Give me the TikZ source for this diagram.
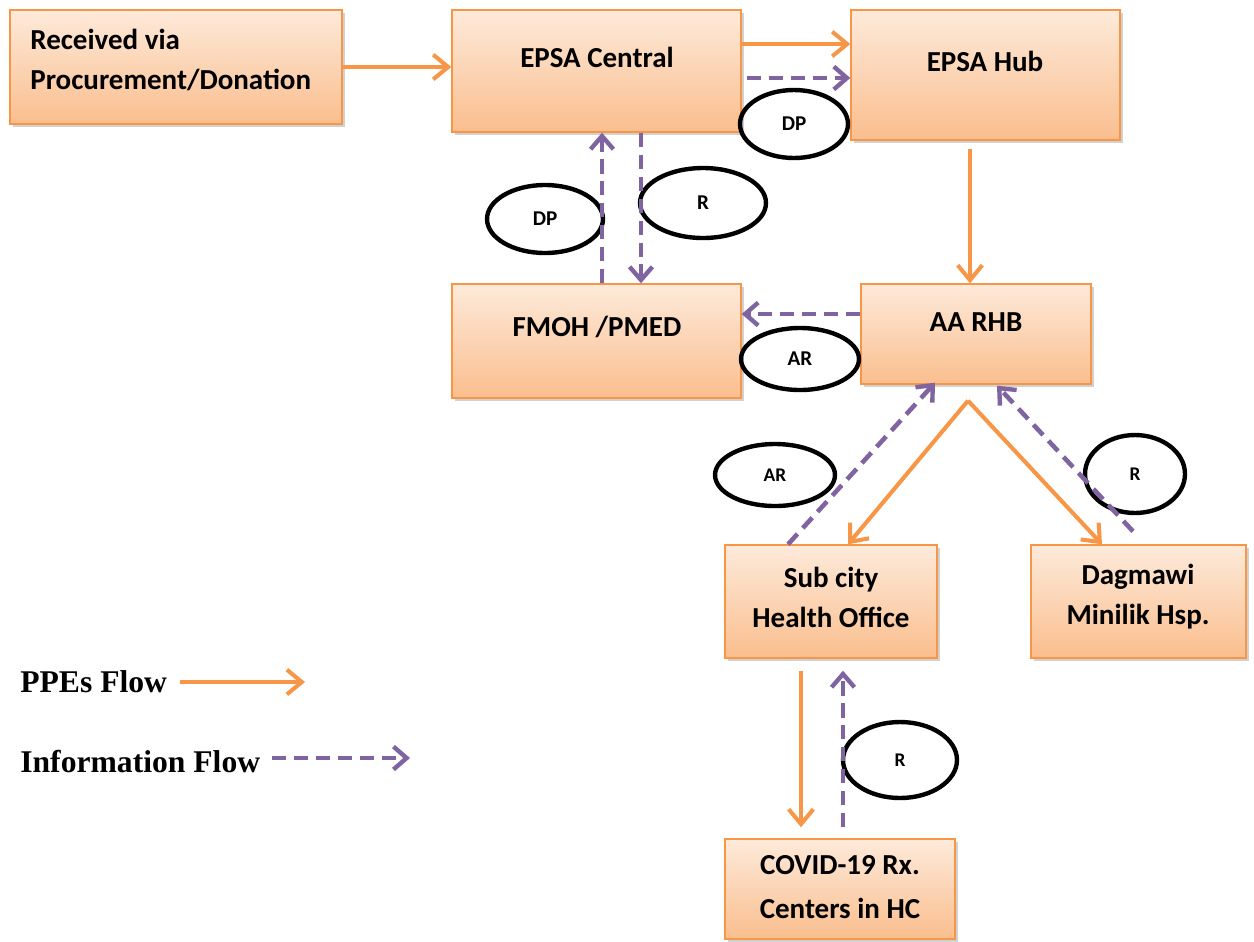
\documentclass[tikz,border=0pt]{standalone}
\usepackage{fontspec}
\setmainfont{Carlito}
\newfontfamily\legendfont{Liberation Serif}
\usetikzlibrary{arrows.meta,shapes.geometric,shadows,calc}
\definecolor{ppeorange}{RGB}{247,150,70}
\definecolor{infopurple}{RGB}{128,100,162}
\definecolor{boxtop}{RGB}{253,234,218}
\definecolor{boxbot}{RGB}{250,190,142}
\begin{document}
\begin{tikzpicture}[x=0.02cm,y=-0.02cm,
 box/.style={draw=ppeorange, line width=0.8pt, top color=boxtop, bottom color=boxbot,
   drop shadow={opacity=0.3,shadow xshift=1.5pt,shadow yshift=-1.5pt,fill=black!60}, inner sep=0pt},
 boxtext/.style={font=\bfseries\fontsize{16.5}{22.7}\selectfont, align=center, inner sep=0pt},
 ppe/.style={draw=ppeorange, line width=2.3pt, -{Straight Barb[length=8.5pt,width=14pt,line width=2.3pt]}},
 info/.style={draw=infopurple, line width=2.6pt, dash pattern=on 8pt off 4.5pt, -{Straight Barb[length=7.5pt,width=13pt,line width=2.5pt]}},
 oval/.style={ellipse, draw=black, line width=2.5pt, inner sep=0pt},
 ovaltext/.style={font=\bfseries\fontsize{12}{14}\selectfont},
 ovalsmall/.style={font=\bfseries\fontsize{11}{13}\selectfont},
 legend/.style={font=\legendfont\bfseries\fontsize{18}{20}\selectfont, anchor=west, inner sep=0pt}]
\useasboundingbox (0,0) rectangle (1254,941);

% boxes
\node[box, minimum width=6.64cm, minimum height=2.28cm] (recv) at (176,67) {};
\node[box, minimum width=5.78cm, minimum height=2.44cm] (epsac) at (596.5,71) {};
\node[box, minimum width=5.38cm, minimum height=2.6cm] (hub) at (985.5,75) {};
\node[box, minimum width=5.78cm, minimum height=2.28cm] (fmoh) at (596.5,341) {};
\node[box, minimum width=4.6cm, minimum height=2cm] (rhb) at (976,334) {};
\node[box, minimum width=4.24cm, minimum height=2.26cm] (sub) at (831,601.5) {};
\node[box, minimum width=4.3cm, minimum height=2.26cm] (dag) at (1138.5,601.5) {};
\node[box, minimum width=4.6cm, minimum height=2cm] (covid) at (840,889) {};

% box texts
\node[boxtext, anchor=west, align=left] (trecv) at (30,60) {Received via\\Procurement/Donation};
\node[boxtext] (tepsac) at (597,57) {EPSA Central};
\node[boxtext] (thub) at (985,61) {EPSA Hub};
\node[boxtext] (tfmoh) at (597,327) {FMOH /PMED};
\node[boxtext] (trhb) at (976,322) {AA RHB};
\node[boxtext] (tsub) at (831,597) {Sub city\\Health Office};
\node[boxtext] (tdag) at (1138,597) {Dagmawi\\Minilik Hsp.};
\node[boxtext, font=\bfseries\fontsize{16.5}{25.5}\selectfont] (tcovid) at (840,887) {COVID-19 Rx.\\Centers in HC};

% ellipses
\node[oval, minimum width=2.16cm, minimum height=1.36cm, ovaltext] (e1) at (794,124) {DP};
\node[oval, minimum width=2.32cm, minimum height=1.36cm, ovaltext] (e2) at (545,219) {DP};
\node[oval, minimum width=2.52cm, minimum height=1.4cm, ovaltext] (e3) at (703,203) {R};
\node[oval, minimum width=2.36cm, minimum height=1.24cm, ovaltext] (e4) at (800,359) {AR};
\node[oval, minimum width=2.4cm, minimum height=1.24cm, ovalsmall] (e5) at (775,475) {AR};
\node[oval, minimum width=2cm, minimum height=1.56cm, ovalsmall] (e6) at (1135,474) {R};
\node[oval, minimum width=2.28cm, minimum height=1.52cm, ovalsmall] (e7) at (900,760) {R};

% connectors
\draw[ppe] (recv.east) -- (recv.east -| epsac.west);

\coordinate (a1) at ($(epsac.east)+(0,-27)$);
\draw[ppe] (a1) -- (a1 -| hub.west);
\coordinate (a2) at ($(epsac.east)+(5,7)$);
\draw[info] (a2) -- (a2 -| hub.west);

\coordinate (a3) at ($(hub.south)+(-15.5,8)$);
\draw[ppe] (a3) -- (a3 |- rhb.north);

\coordinate (a4) at ($(fmoh.north)+(5.5,0)$);
\draw[info] (a4) -- (a4 |- epsac.south);
\coordinate (a5) at ($(epsac.south)+(44.5,0)$);
\draw[info] (a5) -- (a5 |- fmoh.north);

\coordinate (a6) at ($(rhb.west)+(0,-20)$);
\draw[info] (a6) -- (a6 -| fmoh.east);

\coordinate (rhbout) at ($(rhb.south)+(-8,16)$);
\draw[info] ($(sub.north)+(-43,0)$) -- ($(rhb.south)+(-41,-2)$);
\draw[ppe] (rhbout) -- ($(sub.north)+(17,0)$);
\draw[ppe] (rhbout) -- ($(dag.north)+(-36.5,0)$);
\draw[info] ($(dag.north)+(-5.5,-13)$) -- ($(rhb.south)+(21,1)$);

\coordinate (a7) at ($(sub.south)+(-30,12)$);
\draw[ppe] (a7) -- ($(a7 |- covid.north)+(0,-11)$);
\coordinate (a8) at ($(covid.north)+(3,-11)$);
\draw[info] (a8) -- ($(a8 |- sub.south)+(0,12)$);

% legend
\node[legend] (lppe) at (20,682) {PPEs Flow};
\node[legend] (linfo) at (20,762) {Information Flow};
\coordinate (l1a) at (180,682);
\coordinate (l1b) at (305,682);
\coordinate (l2a) at (272,758);
\coordinate (l2b) at (410,758);
\draw[ppe] (l1a) -- (l1b);
\draw[info] (l2a) -- (l2b);
\end{tikzpicture}
\end{document}
